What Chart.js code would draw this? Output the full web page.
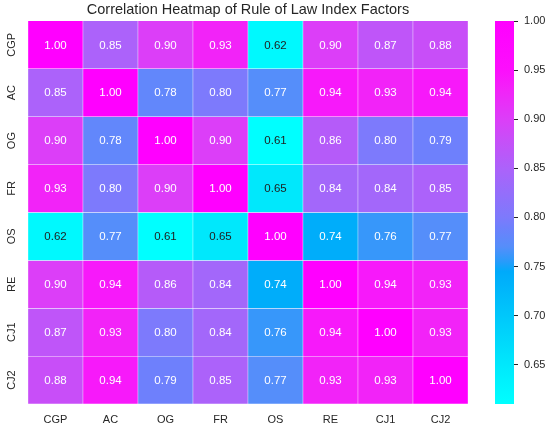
<!DOCTYPE html>
<html>
<head>
<meta charset="utf-8">
<script src="https://cdn.jsdelivr.net/npm/chart.js@4.4.1/dist/chart.umd.min.js"></script>
<style>
  body { margin: 0; background: #fff; }
  #wrap { position: relative; width: 550px; height: 427px; }
  #heat { position: absolute; left: 0; top: 0; width: 496px; height: 427px; }
  #bar { position: absolute; left: 480px; top: 0; width: 70px; height: 427px; }
</style>
</head>
<body>
<div id="wrap">
  <div id="heat"><canvas id="heatChart"></canvas></div>
  <div id="bar"><canvas id="barChart"></canvas></div>
</div>
<script>
// factor names (rows and columns)
const factors = ['CGP', 'AC', 'OG', 'FR', 'OS', 'RE', 'CJ1', 'CJ2'];

// correlation rows
const cgp = [1.00, 0.85, 0.90, 0.93, 0.62, 0.90, 0.87, 0.88];
const ac  = [0.85, 1.00, 0.78, 0.80, 0.77, 0.94, 0.93, 0.94];
const og  = [0.90, 0.78, 1.00, 0.90, 0.61, 0.86, 0.80, 0.79];
const fr  = [0.93, 0.80, 0.90, 1.00, 0.65, 0.84, 0.84, 0.85];
const os  = [0.62, 0.77, 0.61, 0.65, 1.00, 0.74, 0.76, 0.77];
const re  = [0.90, 0.94, 0.86, 0.84, 0.74, 1.00, 0.94, 0.93];
const cj1 = [0.87, 0.93, 0.80, 0.84, 0.76, 0.94, 1.00, 0.93];
const cj2 = [0.88, 0.94, 0.79, 0.85, 0.77, 0.93, 0.93, 1.00];
const matrix = [cgp, ac, og, fr, os, re, cj1, cj2];

// colour bar ticks and range
const cbTicks = [0.65, 0.70, 0.75, 0.80, 0.85, 0.90, 0.95, 1.00];
const vmin = 0.61;
const vmax = 1.00;

// colormap stops (value -> rgb)
const cmap = [
  [0.61,  [0, 255, 255]],
  [0.65,  [0, 232, 252]],
  [0.745, [0, 170, 250]],
  [0.755, [40, 155, 250]],
  [0.77,  [85, 142, 250]],
  [0.79,  [110, 128, 252]],
  [0.80,  [125, 122, 252]],
  [0.85,  [172, 98, 250]],
  [0.88,  [200, 78, 248]],
  [0.90,  [220, 62, 248]],
  [0.93,  [242, 35, 248]],
  [0.95,  [252, 15, 252]],
  [1.00,  [255, 0, 255]]
];

function colorFor(v) {
  if (v <= cmap[0][0]) return 'rgb(' + cmap[0][1] + ')';
  for (let i = 1; i < cmap.length; i++) {
    if (v <= cmap[i][0]) {
      const [v0, c0] = cmap[i - 1];
      const [v1, c1] = cmap[i];
      const t = (v - v0) / (v1 - v0);
      const c = c0.map((x, k) => Math.round(x + (c1[k] - x) * t));
      return 'rgb(' + c + ')';
    }
  }
  return 'rgb(' + cmap[cmap.length - 1][1] + ')';
}

const FONT = '"Liberation Sans", Arial, sans-serif';
const TXT = '#262626';

// values written in the cells + rotated row labels
const cellText = {
  id: 'cellText',
  afterDatasetsDraw(chart) {
    const ctx = chart.ctx;
    ctx.save();
    ctx.font = '11.5px ' + FONT;
    ctx.textAlign = 'center';
    ctx.textBaseline = 'middle';
    chart.data.datasets.forEach((ds, i) => {
      chart.getDatasetMeta(i).data.forEach((bar, j) => {
        const v = matrix[i][j];
        ctx.fillStyle = v < 0.7 ? '#1e1e1e' : '#ffffff';
        ctx.fillText(v.toFixed(2), bar.x, (bar.y + bar.base) / 2 + 0.5);
      });
    });
    // row labels, read bottom to top
    const y = chart.scales.y;
    ctx.font = '11px ' + FONT;
    ctx.fillStyle = TXT;
    factors.forEach((f, i) => {
      ctx.save();
      ctx.translate(12, y.getPixelForValue(i + 0.5));
      ctx.rotate(-Math.PI / 2);
      ctx.fillText(f, 0, 0);
      ctx.restore();
    });
    ctx.restore();
  }
};

new Chart(document.getElementById('heatChart'), {
  type: 'bar',
  data: {
    labels: factors,
    datasets: matrix.map((row, r) => ({
      label: factors[r],
      data: row.map(() => [r, r + 1]),
      backgroundColor: row.map(colorFor),
      borderColor: '#ffffff',
      borderWidth: 0.5,
      borderSkipped: false,
      barPercentage: 1,
      categoryPercentage: 1,
      grouped: false
    }))
  },
  options: {
    responsive: true,
    maintainAspectRatio: false,
    animation: false,
    events: [],
    layout: { padding: { left: 28, right: 28, top: 0, bottom: 0 } },
    plugins: {
      legend: { display: false },
      tooltip: { enabled: false },
      title: {
        display: true,
        text: 'Correlation Heatmap of Rule of Law Index Factors',
        color: TXT,
        font: { family: FONT, size: 14.5, weight: 'normal' },
        padding: { top: 1, bottom: 2.5 }
      }
    },
    scales: {
      x: {
        grid: { display: false, drawTicks: false },
        border: { display: false },
        ticks: { color: TXT, font: { family: FONT, size: 11 }, padding: 9 },
        afterFit: (s) => { s.height = 23; }
      },
      y: {
        display: false,
        min: 0,
        max: 8,
        reverse: true
      }
    }
  },
  plugins: [cellText]
});

// colour bar
new Chart(document.getElementById('barChart'), {
  type: 'bar',
  data: {
    labels: [''],
    datasets: [{
      data: [[vmin, vmax]],
      backgroundColor: (c) => {
        const chart = c.chart;
        if (!chart.chartArea) return null;
        const ys = chart.scales.y;
        const g = chart.ctx.createLinearGradient(0, ys.getPixelForValue(vmin), 0, ys.getPixelForValue(vmax));
        cmap.forEach(([v, rgb]) => g.addColorStop((v - vmin) / (vmax - vmin), 'rgb(' + rgb + ')'));
        return g;
      },
      borderWidth: 0,
      barPercentage: 1,
      categoryPercentage: 1
    }]
  },
  options: {
    responsive: true,
    maintainAspectRatio: false,
    animation: false,
    events: [],
    layout: { padding: { left: 15, right: 0, top: 21, bottom: 23 } },
    plugins: { legend: { display: false }, tooltip: { enabled: false } },
    scales: {
      x: { display: false },
      y: {
        position: 'right',
        min: vmin,
        max: vmax,
        afterBuildTicks: (axis) => { axis.ticks = cbTicks.map(v => ({ value: v })); },
        ticks: {
          color: TXT,
          font: { family: FONT, size: 11 },
          padding: 6,
          callback: (v) => Number(v).toFixed(2)
        },
        grid: { drawOnChartArea: false, drawTicks: true, tickLength: 4, color: TXT },
        border: { display: false },
        afterFit: (s) => { s.width = 36; }
      }
    }
  }
});
</script>
</body>
</html>
